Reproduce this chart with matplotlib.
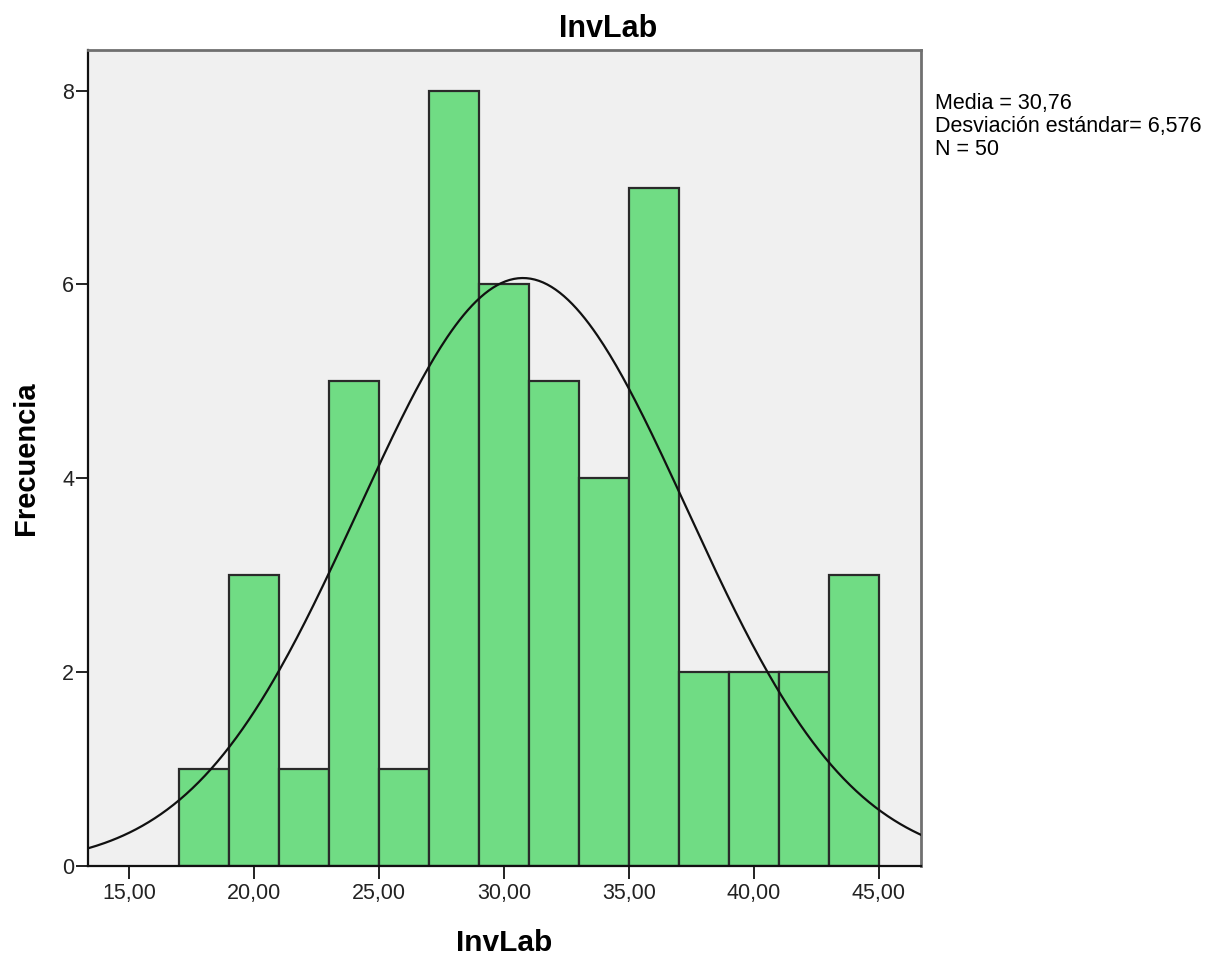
import numpy as np
import matplotlib.pyplot as plt

# Histograma de InvLab con curva normal
bordes = [17, 19, 21, 23, 25, 27, 29, 31, 33, 35, 37, 39, 41, 43, 45]
frecuencias = [1, 3, 1, 5, 1, 8, 6, 5, 4, 7, 2, 2, 2, 3]
media = 30.76
desv = 6.576
n = 50

plt.rcParams['font.family'] = ['Liberation Sans', 'DejaVu Sans']

fig = plt.figure(figsize=(12.17, 9.57), dpi=100)
ax = fig.add_axes([0.0723, 0.0951, 0.6845, 0.8527])
ax.set_facecolor('#F0F0F0')

anchos = np.diff(bordes)
ax.bar(bordes[:-1], frecuencias, width=anchos, align='edge',
       color='#70DC84', edgecolor='#2A2A2A', linewidth=1.6, zorder=2)

# Curva normal escalada al ancho de clase
xmin, xmax = 13.35, 46.7
ancho = anchos[0]
x = np.linspace(xmin, xmax, 400)
y = n * ancho / (desv * np.sqrt(2 * np.pi)) * np.exp(-0.5 * ((x - media) / desv) ** 2)
ax.plot(x, y, color='#111111', linewidth=1.6, zorder=3)

ax.set_xlim(xmin, xmax)
ax.set_ylim(0, 8.42)
ax.set_xticks([15, 20, 25, 30, 35, 40, 45])
ax.set_xticklabels(['15,00', '20,00', '25,00', '30,00', '35,00', '40,00', '45,00'])
ax.set_yticks([0, 2, 4, 6, 8])
ax.tick_params(axis='both', labelsize=15.5, length=9, width=1.4, color='#222222',
               labelcolor='#222222')
ax.tick_params(axis='x', pad=3)
ax.tick_params(axis='y', pad=1)

for lado in ['left', 'bottom']:
    ax.spines[lado].set_color('#111111')
    ax.spines[lado].set_linewidth(1.6)
for lado in ['top', 'right']:
    ax.spines[lado].set_color('#707070')
    ax.spines[lado].set_linewidth(2)

fig.text(0.5, 0.961, 'InvLab', fontsize=22, fontweight='bold',
         ha='center', va='baseline')
ax.set_xlabel('InvLab', fontsize=21.5, fontweight='bold', labelpad=18)
ax.set_ylabel('Frecuencia', fontsize=21, fontweight='bold', labelpad=16)

fig.text(0.768, 0.903,
         'Media = 30,76\nDesviación estándar= 6,576\nN = 50',
         fontsize=15.5, va='top', ha='left', linespacing=1.12)

fig.savefig('out.png', dpi=100)
